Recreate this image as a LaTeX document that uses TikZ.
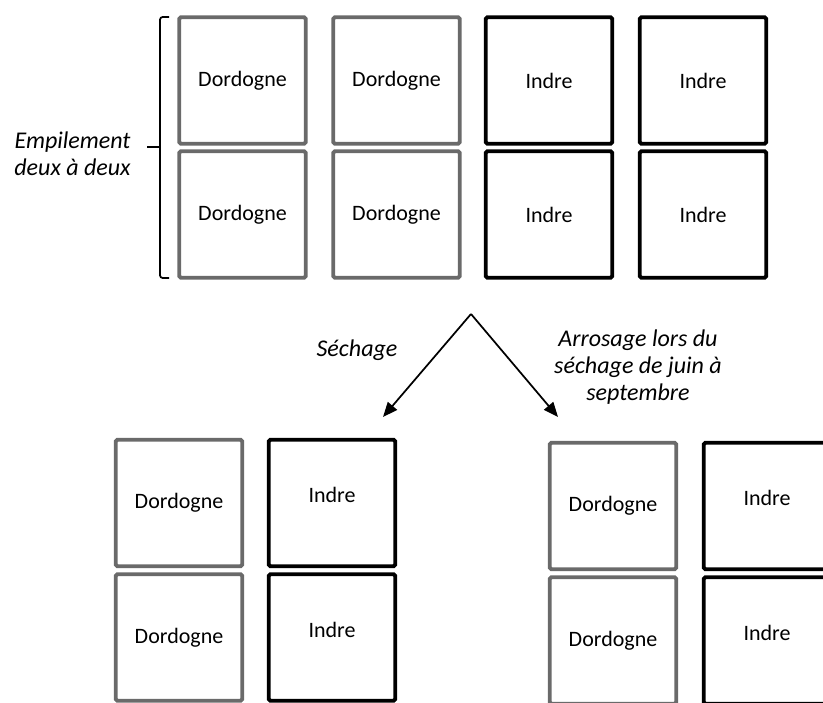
\documentclass[tikz,border=0pt]{standalone}
\usepackage{fontspec}
\setmainfont{Carlito}
\usetikzlibrary{arrows.meta}
\definecolor{boxgray}{HTML}{6A6A6A}
\tikzset{
  px/.style={x=0.75pt,y=-0.75pt},
  cell/.style={draw, line width=2.9pt, rounded corners=1.2pt, minimum width=94.8pt, minimum height=94.8pt, inner sep=0pt, font=\fontsize{16.5}{19}\selectfont},
  dordbox/.style={cell, draw=boxgray},
  indrebox/.style={cell, draw=black},
  lbl/.style={font=\fontsize{18}{20.5}\selectfont\itshape, align=center, inner sep=0pt},
  arr/.style={line width=1.3pt, -{Triangle[length=11pt,width=9pt]}},
}
\begin{document}
\begin{tikzpicture}[px]
\useasboundingbox (0,0) rectangle (823,702);
\clip (0,0) rectangle (823,702);
% top block
\node[dordbox] (t11) at (242.5,80.5) {Dordogne};
\node[dordbox] (t12) at (396.5,80.5) {Dordogne};
\node[indrebox] (t13) at (549,80.5) {Indre};
\node[indrebox] (t14) at (703,80.5) {Indre};
\node[dordbox] (t21) at (242.5,214.5) {Dordogne};
\node[dordbox] (t22) at (396.5,214.5) {Dordogne};
\node[indrebox] (t23) at (549,214.5) {Indre};
\node[indrebox] (t24) at (703,214.5) {Indre};
% brace
\coordinate (bt) at (169,17);
\coordinate (bb) at (169,278);
\coordinate (btip) at (147,147);
\draw[line width=1.3pt, rounded corners=2pt] (bt) -- (160,17) -- (160,278) -- (bb);
\draw[line width=1.3pt] (160,147) -- (btip);
\node[lbl] (emp) at (72.5,154) {Empilement\\deux à deux};
% arrows
\coordinate (apex) at (471,314);
\coordinate (tipL) at (383,417);
\coordinate (tipR) at (558,417);
\draw[arr] (apex) -- (tipL);
\draw[arr] (apex) -- (tipR);
\node[lbl] (sech) at (357,350) {Séchage};
\node[lbl] (arro) at (638,367) {Arrosage lors du\\séchage de juin à\\septembre};
% bottom left
\node[dordbox] (l11) at (179,503) {Dordogne};
\node[indrebox] (l12) at (332,503) {\raisebox{1.5ex}{Indre}};
\node[dordbox] (l21) at (179,637.5) {Dordogne};
\node[indrebox] (l22) at (332,637.5) {\raisebox{1.5ex}{Indre}};
% bottom right
\node[dordbox] (r11) at (613,506) {Dordogne};
\node[indrebox] (r12) at (767,506) {\raisebox{1.5ex}{Indre}};
\node[dordbox] (r21) at (613,640.5) {Dordogne};
\node[indrebox] (r22) at (767,640.5) {\raisebox{1.5ex}{Indre}};
\end{tikzpicture}
\end{document}
